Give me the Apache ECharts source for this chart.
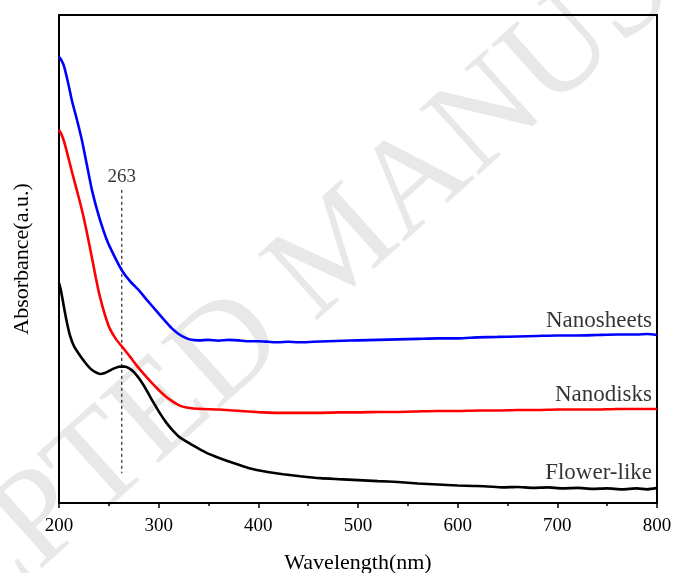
<!DOCTYPE html>
<html>
<head>
<meta charset="utf-8">
<script src="https://cdn.jsdelivr.net/npm/echarts@6/dist/echarts.min.js"></script>
<style>
  html, body { margin: 0; padding: 0; background: #fff; }
  #chart { width: 673px; height: 573px; }
</style>
</head>
<body>
<div id="chart"></div>
<script>
// UV-Vis absorbance spectra, wavelength (nm) vs absorbance (a.u.)
const xTicks = [200, 300, 400, 500, 600, 700, 800];

const nanosheets = [
  [200,0.912],[202,0.907],[205,0.893],[209,0.860],[213,0.822],[218,0.783],[223,0.741],
  [228,0.690],[233,0.639],[240,0.585],[248,0.536],[255,0.505],[263,0.474],[271,0.452],[280,0.433],
  [289,0.411],[297,0.392],[305,0.373],[313,0.355],[320,0.343],[327,0.335],[333,0.331],[340,0.330],
  [350,0.331],[360,0.329],[370,0.331],[380,0.330],[390,0.328],[400,0.328],[410,0.327],[420,0.326],
  [430,0.327],[440,0.326],[455,0.327],[470,0.328],[485,0.329],[500,0.330],[520,0.331],[540,0.332],
  [560,0.333],[580,0.334],[600,0.334],[620,0.336],[640,0.337],[660,0.338],[680,0.339],[700,0.340],
  [720,0.340],[740,0.341],[760,0.342],[780,0.342],[790,0.343],[800,0.341]
];

const nanodisks = [
  [200,0.762],[202,0.755],[205,0.739],[209,0.708],[213,0.676],[217,0.645],[221,0.614],[225,0.580],
  [229,0.541],[233,0.500],[237,0.458],[241,0.420],[246,0.383],[251,0.354],[257,0.333],[264,0.315],
  [271,0.297],[278,0.278],[285,0.261],[292,0.245],[300,0.228],[308,0.213],[315,0.203],[321,0.196],
  [328,0.192],[335,0.190],[345,0.189],[360,0.188],[375,0.186],[390,0.184],[405,0.182],[420,0.181],
  [440,0.181],[460,0.181],[480,0.182],[500,0.182],[520,0.183],[540,0.183],[560,0.184],[580,0.185],
  [600,0.185],[620,0.186],[640,0.186],[660,0.187],[680,0.187],[700,0.188],[720,0.188],[740,0.188],
  [760,0.189],[780,0.189],[800,0.189]
];

const flowerLike = [
  [200,0.448],[202,0.432],[205,0.398],[208,0.366],[211,0.340],[215,0.318],[220,0.302],[226,0.285],
  [231,0.273],[236,0.265],[241,0.261],[246,0.263],[251,0.268],[256,0.273],[261,0.276],[266,0.276],
  [270,0.273],[274,0.267],[278,0.258],[283,0.244],[288,0.227],[294,0.205],[301,0.181],[308,0.160],
  [315,0.143],[321,0.131],[328,0.122],[338,0.110],[348,0.099],[360,0.089],[375,0.078],[390,0.068],
  [408,0.060],[425,0.055],[442,0.051],[462,0.047],[480,0.045],[500,0.043],[520,0.041],[540,0.039],
  [560,0.036],[580,0.034],[600,0.032],[615,0.031],[630,0.030],[645,0.028],[660,0.029],[675,0.027],
  [690,0.028],[705,0.026],[720,0.027],[735,0.025],[750,0.026],[765,0.024],[780,0.026],[790,0.024],
  [800,0.027]
];

// peak marker for the flower-like sample
const peakWavelength = 263;
const peakLine = [[peakWavelength, 0.639], [peakWavelength, 0.057]];

const seriesNames = ['Nanosheets', 'Nanodisks', 'Flower-like'];
const seriesColors = ['#0000ff', '#ff0000', '#000000'];
const seriesData = [nanosheets, nanodisks, flowerLike];

const serif = "'Liberation Serif', 'Times New Roman', serif";
const chart = echarts.init(document.getElementById('chart'), null, { renderer: 'canvas' });

const lineSeries = seriesData.map((d, i) => ({
  name: seriesNames[i],
  type: 'line',
  data: d,
  smooth: 0.2,
  showSymbol: false,
  lineStyle: { color: seriesColors[i], width: 2.6 },
  z: 3
}));

const hiddenDot = { color: 'rgba(0,0,0,0)', borderWidth: 0 };

// names written just above the end of each curve
const nameLabels = {
  type: 'scatter',
  data: seriesData.map((d, i) => ({ value: d[d.length - 1], name: seriesNames[i] })),
  symbol: 'circle',
  symbolSize: 2,
  itemStyle: hiddenDot,
  label: {
    show: true,
    position: 'top',
    distance: 2,
    align: 'right',
    offset: [-5, 0],
    formatter: p => p.name,
    color: '#000',
    fontFamily: serif,
    fontSize: 23
  },
  silent: true,
  z: 4
};

const frameLine = { show: true, onZero: false, lineStyle: { color: '#000', width: 2 } };

const option = {
  animation: false,
  backgroundColor: '#fff',
  graphic: [{
    type: 'text',
    x: 342,
    y: 250,
    rotation: 42 * Math.PI / 180,
    z: -10,
    silent: true,
    style: {
      text: 'ACCEPTED MANUSCRIPT',
      fill: '#e8e8e8',
      font: '135px ' + serif,
      textAlign: 'center',
      textVerticalAlign: 'middle'
    }
  }],
  grid: { left: 59, right: 16, top: 15, bottom: 70, outerBoundsMode: 'none', containLabel: false },
  xAxis: [{
    type: 'value',
    min: xTicks[0],
    max: xTicks[xTicks.length - 1],
    interval: 100,
    name: 'Wavelength(nm)',
    nameLocation: 'middle',
    nameGap: 49,
    nameTextStyle: { fontFamily: serif, fontSize: 22, color: '#000' },
    axisLine: frameLine,
    axisTick: { show: true, length: 5, lineStyle: { color: '#000', width: 1.5 } },
    minorTick: { show: true, splitNumber: 2, length: 3, lineStyle: { color: '#000', width: 1.5 } },
    axisLabel: { margin: 14, fontFamily: serif, fontSize: 19, color: '#000' },
    splitLine: { show: false }
  }, {
    type: 'value',
    position: 'top',
    min: xTicks[0],
    max: xTicks[xTicks.length - 1],
    axisLine: frameLine,
    axisTick: { show: false },
    axisLabel: { show: false },
    splitLine: { show: false }
  }],
  yAxis: [{
    type: 'value',
    min: -0.004,
    max: 0.998,
    name: 'Absorbance(a.u.)',
    nameLocation: 'middle',
    nameGap: 26,
    nameTextStyle: { fontFamily: serif, fontSize: 22, color: '#000' },
    axisLine: frameLine,
    axisTick: { show: false },
    axisLabel: { show: false },
    splitLine: { show: false }
  }, {
    type: 'value',
    position: 'right',
    min: -0.004,
    max: 0.998,
    axisLine: frameLine,
    axisTick: { show: false },
    axisLabel: { show: false },
    splitLine: { show: false }
  }],
  series: [
    ...lineSeries,
    nameLabels,
    {
      type: 'line',
      data: peakLine,
      showSymbol: false,
      lineStyle: { color: '#000', width: 1, type: [3, 3] },
      silent: true,
      z: 2
    },
    {
      type: 'scatter',
      data: [{ value: peakLine[0], name: String(peakWavelength) }],
      symbol: 'circle',
      symbolSize: 2,
      itemStyle: hiddenDot,
      label: {
        show: true,
        position: 'top',
        distance: 2,
        formatter: p => p.name,
        color: '#000',
        fontFamily: serif,
        fontSize: 19
      },
      silent: true,
      z: 4
    }
  ]
};

chart.setOption(option);
</script>
</body>
</html>
